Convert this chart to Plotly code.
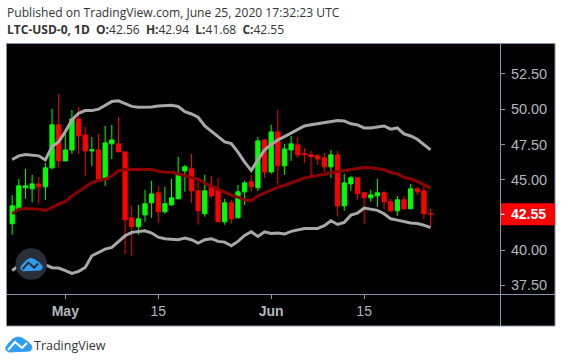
import plotly.graph_objects as go
import pandas as pd

START_DATE = "2020-04-23"
opens = [41.87,42.91,44.42,44.35,44.70,44.49,45.84,48.89,46.33,47.11,49.31,48.17,47.04,47.11,45.13,47.54,47.54,46.97,42.29,41.66,
         42.50,43.36,44.07,42.72,43.22,43.64,45.62,45.77,44.21,42.58,44.56,44.28,42.01,43.36,42.29,44.14,44.85,44.42,47.82,45.55,
         48.39,45.98,47.11,47.47,46.85,46.76,46.69,46.55,45.91,46.76,43.14,44.70,45.13,44.07,43.71,43.85,44.07,43.43,42.79,43.57,
         42.93,44.35,44.21,42.56]
highs = [43.90,45.06,45.77,45.34,45.18,46.17,50.02,51.08,48.53,49.95,50.16,48.74,48.03,48.25,48.81,48.88,49.45,46.97,43.14,43.20,
         44.28,44.92,44.56,44.49,45.06,46.62,46.05,46.83,44.85,45.34,45.27,45.13,43.64,43.57,44.63,44.92,45.34,48.04,47.89,48.89,
         49.95,47.54,48.10,48.03,47.25,47.04,46.83,46.90,47.11,47.04,45.41,45.27,45.13,44.14,44.28,45.06,44.21,43.64,43.85,43.85,
         44.70,44.49,44.63,42.94]
lows = [41.09,42.86,43.66,43.38,43.29,43.57,45.74,45.84,46.33,46.83,46.83,45.27,45.98,44.98,44.56,46.47,46.97,39.74,39.60,41.09,
        42.01,42.29,41.94,42.58,43.14,43.64,44.14,43.36,41.80,42.37,43.71,42.01,41.80,41.87,42.29,43.21,44.14,44.20,45.13,45.41,
        44.63,45.34,46.33,46.55,46.19,45.13,46.05,45.55,45.13,42.37,42.79,44.21,43.57,41.87,43.43,43.07,42.93,42.72,42.44,42.86,
        42.93,43.92,42.20,41.68]
closes = [43.14,44.56,44.56,44.70,44.49,45.84,48.89,46.33,47.11,49.31,48.10,47.04,47.11,44.98,47.61,47.82,46.97,42.15,41.66,42.22,
          43.29,43.99,42.72,43.29,43.71,45.34,45.91,44.21,42.79,44.21,43.85,42.01,43.36,42.22,44.14,44.77,44.49,47.75,45.55,48.39,
          45.98,47.18,47.54,46.76,46.78,46.62,46.47,45.91,46.76,43.14,44.77,45.13,44.00,43.71,43.92,44.07,43.43,42.79,43.57,42.93,
          44.35,44.14,42.58,42.55]
upper_band = [46.43,46.69,46.78,46.71,46.69,46.40,47.35,47.70,48.41,49.24,49.71,49.90,49.90,50.00,50.28,50.54,50.59,50.42,50.20,50.14,
              50.14,50.16,50.23,50.28,50.28,50.19,49.83,49.66,49.43,48.81,48.41,48.01,47.68,47.56,46.95,46.24,45.65,46.40,47.10,47.50,
              47.82,48.06,48.29,48.58,48.81,48.89,48.96,49.03,49.12,49.19,49.17,48.96,48.89,48.67,48.67,48.74,48.81,48.58,48.67,48.25,
              48.10,47.87,47.51,47.11]
middle_band = [42.58,42.91,42.96,42.96,42.91,42.81,43.05,43.26,43.45,43.85,44.16,44.47,44.80,44.94,45.03,45.27,45.62,45.72,45.74,45.74,
               45.72,45.72,45.60,45.53,45.53,45.41,45.32,45.17,45.03,44.75,44.54,44.33,44.09,43.90,43.76,43.57,43.50,43.85,44.04,44.28,
               44.47,44.59,44.75,44.94,45.13,45.22,45.27,45.39,45.51,45.58,45.65,45.74,45.81,45.86,45.84,45.77,45.70,45.51,45.41,45.15,
               45.06,44.87,44.63,44.40]
lower_band = [38.56,38.89,38.96,38.96,39.00,38.96,38.75,38.73,38.54,38.35,38.49,38.77,39.60,39.84,40.07,40.19,40.64,41.02,41.26,41.33,
              41.37,41.21,40.92,40.81,40.76,40.74,40.85,40.74,40.50,40.74,40.81,40.62,40.57,40.31,40.62,41.04,41.30,40.97,41.30,41.18,
              41.21,41.14,41.33,41.44,41.54,41.54,41.54,41.73,42.08,41.82,41.96,42.48,42.63,42.98,42.91,42.82,42.58,42.22,42.13,42.01,
              41.92,41.89,41.77,41.59]
x_tick_dates = ["2020-05-01", "2020-05-15", "2020-06-01", "2020-06-15"]
x_tick_labels = ["<b>May</b>", "15", "<b>Jun</b>", "15"]
y_tick_values = [37.5, 40, 42.5, 45, 47.5, 50, 52.5]
y_tick_labels = ["37.50", "40.00", "", "45.00", "47.50", "50.00", "52.50"]
last_price = 42.55

dates = pd.date_range(START_DATE, periods=len(opens), freq="D")

W, H = 562, 363
L, R, T, B = 7, 500, 44, 294
BORDER = "#8794a8"
TICKTEXT = "#b4b7bd"
BLUE = "#2e9ef4"
NB = "\u00a0"


def fx(px):
    return (px - L) / (R - L)


def fy(py):
    return (B - py) / (B - T)


def paper_shape(kind, x0, y0, x1, y1, **kw):
    return dict(type=kind, xref="paper", yref="paper", x0=fx(x0), y0=fy(y0), x1=fx(x1), y1=fy(y1), **kw)


def paper_path(points, ox, oy, s, close):
    parts = []
    for i, (a, b) in enumerate(points):
        parts.append(("M" if i == 0 else "L") + f"{fx(ox + a * s):.5f},{fy(oy + b * s):.5f}")
    return " ".join(parts) + (" Z" if close else "")


cloud = [(0, 10), (3, 6), (7, 2), (11, 0), (16, 1), (19, 3), (22, 5), (25, 8), (26, 11), (24, 14), (3, 15), (0, 13)]
zigzag = [(2, 13), (9, 5), (16, 11), (21, 6)]


def logo_shapes(ox, oy, s, w):
    return [
        dict(type="path", xref="paper", yref="paper", path=paper_path(cloud, ox, oy, s, True),
             fillcolor=BLUE, line=dict(color=BLUE, width=1)),
        dict(type="path", xref="paper", yref="paper", path=paper_path(zigzag, ox, oy, s, False),
             line=dict(color=w, width=2)),
    ]


shapes = [
    paper_shape("rect", 6.5, 43.5, 555, 326, fillcolor="#000000", line=dict(color=BORDER, width=1), layer="below"),
    paper_shape("line", 500.5, 43.5, 500.5, 326, line=dict(color=BORDER, width=1), layer="below"),
    paper_shape("line", 6.5, 294.5, 555, 294.5, line=dict(color=BORDER, width=1), layer="below"),
    dict(type="rect", xref="paper", yref="y", x0=fx(501), x1=fx(555), ysizemode="pixel", yanchor=last_price,
         y0=-11, y1=11, fillcolor="#ff0000", line=dict(width=0), layer="below"),
    dict(type="line", xref="paper", yref="y", x0=fx(501), x1=fx(504), y0=last_price, y1=last_price,
         line=dict(color="#ffffff", width=1)),
    paper_shape("circle", 15.5, 248.3, 47, 279.8, fillcolor="#2a2e39", line=dict(width=0)),
]
shapes += logo_shapes(21, 258.5, 0.82, "#2a2e39")
shapes += logo_shapes(6, 337, 1.0, "#ffffff")

TEXT_FONT = "Open Sans"
annotations = [
    dict(xref="paper", yref="paper", x=fx(4.5), y=fy(12.5), xanchor="left", yanchor="middle", showarrow=False,
         text="Published on TradingView.com, June 25, 2020 17:32:23 UTC",
         font=dict(family=TEXT_FONT, size=12.1, color="#333333")),
    dict(xref="paper", yref="paper", x=fx(4.5), y=fy(30), xanchor="left", yanchor="middle", showarrow=False,
         text=f"<b>LTC-USD-0, 1D</b>{NB}{NB}<b>O:</b>42.56{NB}{NB}<b>H:</b>42.94{NB}{NB}<b>L:</b>41.68{NB}{NB}<b>C:</b>42.55",
         font=dict(family=TEXT_FONT, size=12, color="#333333")),
    dict(xref="paper", yref="paper", x=fx(32), y=fy(345), xanchor="left", yanchor="middle", showarrow=False,
         text="TradingView", font=dict(family=TEXT_FONT, size=12.5, color="#333333")),
    dict(xref="paper", yref="y", x=fx(510), y=last_price, xanchor="left", yanchor="middle", showarrow=False,
         text="<b>42.55</b>", font=dict(family="Liberation Sans", size=14, color="#ffffff"), borderpad=0),
]

fig = go.Figure()
fig.add_trace(go.Scatter(x=dates, y=upper_band, mode="lines", line=dict(color="#a8a8a8", width=3), showlegend=False))
fig.add_trace(go.Scatter(x=dates, y=lower_band, mode="lines", line=dict(color="#a8a8a8", width=3), showlegend=False))
fig.add_trace(go.Scatter(x=dates, y=middle_band, mode="lines", line=dict(color="#8e0000", width=3), showlegend=False))
fig.add_trace(go.Candlestick(
    x=dates, open=opens, high=highs, low=lows, close=closes, showlegend=False,
    increasing=dict(line=dict(color="#00ff00", width=1), fillcolor="#00ff00"),
    decreasing=dict(line=dict(color="#ff0000", width=1), fillcolor="#ff0000"),
))

fig.update_layout(
    width=W, height=H, margin=dict(l=L, r=W - R, t=T, b=H - B, pad=0),
    paper_bgcolor="#ffffff", plot_bgcolor="rgba(0,0,0,0)", showlegend=False,
    boxgap=0.2, boxgroupgap=0.2,
    shapes=shapes, annotations=annotations,
    xaxis=dict(type="date", range=["2020-04-22 05:16", "2020-07-05 11:00"], rangeslider=dict(visible=False),
               showgrid=False, zeroline=False, showline=False,
               tickmode="array", tickvals=x_tick_dates, ticktext=x_tick_labels, ticks="outside", ticklen=4,
               tickcolor=BORDER, tickwidth=1, tickangle=0,
               tickfont=dict(family="Liberation Sans", size=14, color=TICKTEXT)),
    yaxis=dict(range=[36.887, 54.626], side="right", showgrid=False, zeroline=False, showline=False,
               tickmode="array", tickvals=y_tick_values, ticktext=y_tick_labels, ticks="outside", ticklen=4,
               tickcolor=BORDER, tickwidth=1, ticklabelstandoff=3,
               tickfont=dict(family="Liberation Sans", size=14.5, color=TICKTEXT)),
)
fig.write_html("out.html", config=dict(displayModeBar=False),
               post_script="document.body.style.margin='0';document.body.style.overflow='hidden';")
